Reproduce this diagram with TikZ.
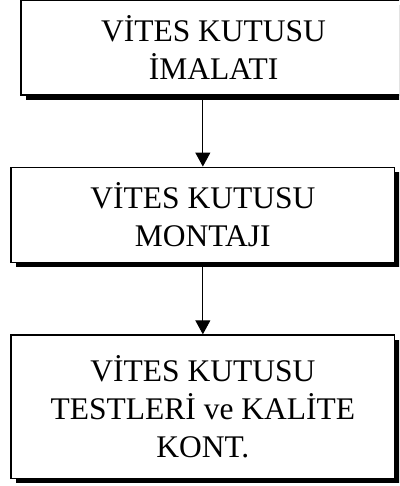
\documentclass[tikz,border=0pt]{standalone}
\usepackage{fontspec}
\setmainfont{Liberation Serif}
\usetikzlibrary{shadows,arrows.meta}
\begin{document}
\begin{tikzpicture}[x=1pt,y=-1pt,
  flowbox/.style={draw=black, line width=1.5pt, fill=white, rectangle, inner sep=0pt,
    align=center, font=\fontsize{31.5}{38}\selectfont,
    drop shadow={shadow xshift=5pt, shadow yshift=-5pt, fill=black, opacity=1}},
  flowarrow/.style={draw=black, line width=1pt, -{Triangle[length=14pt,width=15pt]}}]
\useasboundingbox (0,0) rectangle (399,486);
\clip (0,0) rectangle (399,486);
\node[flowbox, minimum width=385pt, minimum height=94.5pt] (b1) at (213.5,47.75) {VİTES KUTUSU\\İMALATI};
\node[flowbox, minimum width=383.7pt, minimum height=95pt] (b2) at (202.85,214.8) {VİTES KUTUSU\\MONTAJI};
\node[flowbox, minimum width=383.7pt, minimum height=143.3pt] (b3) at (202.85,406.7) {VİTES KUTUSU\\TESTLERİ ve KALİTE\\KONT.};
\draw[flowarrow] (b2.north |- b1.south) -- (b2.north);
\draw[flowarrow] (b2.south) -- (b3.north);
\end{tikzpicture}
\end{document}
